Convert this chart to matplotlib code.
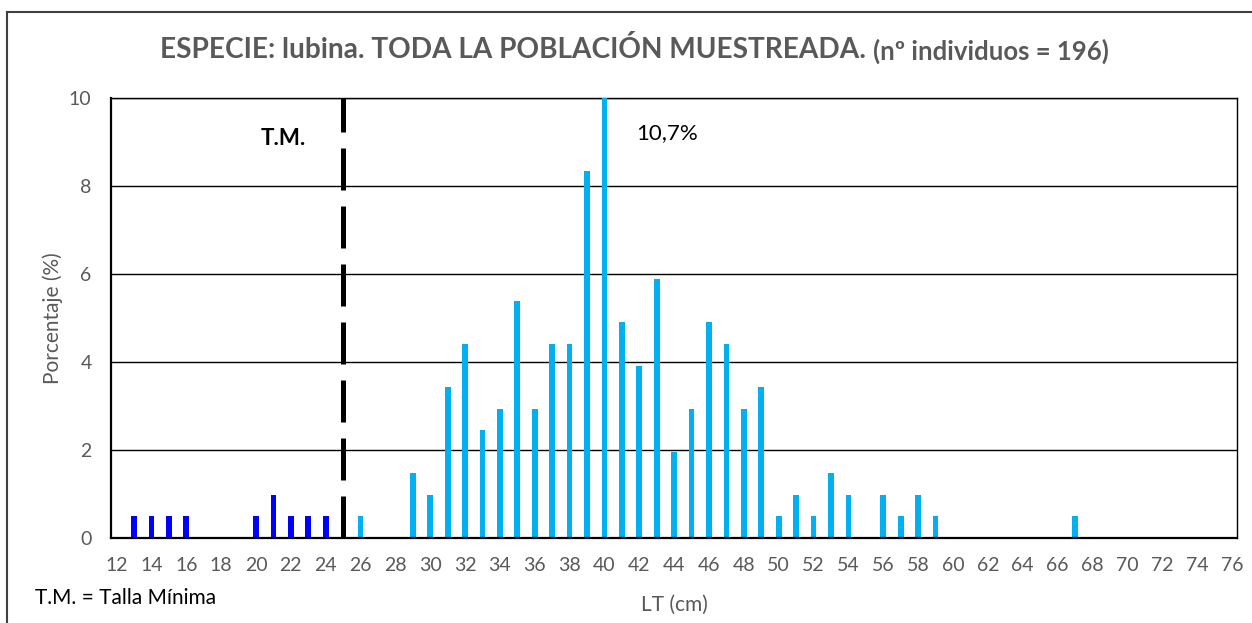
import matplotlib.pyplot as plt
from matplotlib.lines import Line2D

plt.rcParams['font.family'] = ['Lato', 'DejaVu Sans']

# tallas (cm) y porcentaje
tallas_bajo = [13, 14, 15, 16, 20, 21, 22, 23, 24]
pct_bajo = [0.49, 0.49, 0.49, 0.49, 0.49, 0.98, 0.49, 0.49, 0.49]

tallas_sobre = [26, 29, 30, 31, 32, 33, 34, 35, 36, 37, 38, 39, 40, 41, 42, 43, 44,
                45, 46, 47, 48, 49, 50, 51, 52, 53, 54, 56, 57, 58, 59, 67]
pct_sobre = [0.49, 1.47, 0.98, 3.43, 4.41, 2.45, 2.94, 5.39, 2.94, 4.41, 4.41, 8.33,
             10.7, 4.90, 3.92, 5.88, 1.96, 2.94, 4.90, 4.41, 2.94, 3.43, 0.49, 0.98,
             0.49, 1.47, 0.98, 0.98, 0.49, 0.98, 0.49, 0.49]

talla_minima = 25
xticks = list(range(12, 77, 2))
yticks = [0, 2, 4, 6, 8, 10]

gris = '#595959'

fig = plt.figure(figsize=(12.52, 6.23), dpi=100)
ax = fig.add_axes([111/1252, 1-538/623, 1126/1252, 440/623])

ax.bar(tallas_bajo, pct_bajo, width=0.33, color='#0000FF', zorder=3)
ax.bar(tallas_sobre, pct_sobre, width=0.33, color='#00B0F0', zorder=3)

ax.plot([talla_minima, talla_minima], [0, 10], color='black', lw=3.6,
        dashes=(8.4, 3.2), zorder=4, solid_capstyle='butt')

ax.set_xlim(11.68, 76.3)
ax.set_ylim(0, 10)
ax.set_xticks(xticks)
ax.set_yticks(yticks)
ax.tick_params(length=0, labelsize=14, colors=gris, pad=14)
ax.tick_params(axis='y', pad=14)
ax.yaxis.grid(True, color='black', lw=1.0, zorder=0)
for s in ['top', 'right']:
    ax.spines[s].set_linewidth(1.0)
for s in ['left', 'bottom']:
    ax.spines[s].set_linewidth(1.6)
    ax.spines[s].set_zorder(5)

ax.set_ylabel('Porcentaje (%)', fontsize=15, color=gris, labelpad=4)
ax.set_xlabel('LT (cm)', fontsize=15, color=gris, labelpad=15)

ax.text(21.55, 9.09, 'T.M.', fontsize=16, fontweight='bold', ha='center', va='center')
ax.text(41.8, 9.2, '10,7%', fontsize=16, ha='left', va='center')

fig.text(35/1252, 1-598/623, 'T.M. = Talla Mínima', fontsize=15, va='center')

t1 = fig.text(160/1252, 1-49/623, 'ESPECIE: lubina. TODA LA POBLACIÓN MUESTREADA.',
              fontsize=20.2, fontweight='bold', color=gris, va='center')
r = fig.canvas.get_renderer()
bb = t1.get_window_extent(r)
fig.text((bb.x1 + 7)/1252, 1-51/623, '(nº individuos = 196)', fontsize=18.5,
         fontweight='bold', color=gris, va='center')

# marco exterior
fig.add_artist(Line2D([7/1252, 7/1252], [0, 1-12/623], color='#404040', lw=1.5))
fig.add_artist(Line2D([7/1252, 1], [1-12/623, 1-12/623], color='#404040', lw=1.5))

fig.savefig('out.png', dpi=100)
